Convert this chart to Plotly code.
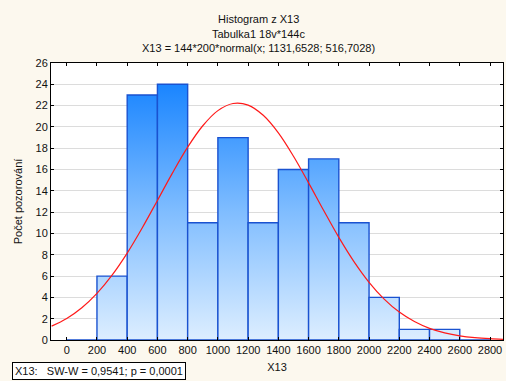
import plotly.graph_objects as go

# Data
bin_edges = [0, 200, 400, 600, 800, 1000, 1200, 1400, 1600, 1800, 2000, 2200, 2400, 2600, 2800]
counts = [0, 6, 23, 24, 11, 19, 11, 16, 17, 11, 4, 1, 1, 0]

# Fitted normal curve
curve_x = [-100, 0, 100, 200, 300, 400, 500, 600, 700, 800, 900, 1000, 1100, 1200, 1300,
           1400, 1500, 1600, 1700, 1800, 1900, 2000, 2100, 2200, 2300, 2400, 2500, 2600,
           2700, 2800, 2900]
curve_y = [1.30, 2.02, 3.03, 4.38, 6.09, 8.16, 10.54, 13.10, 15.69, 18.10, 20.11, 21.53,
           22.20, 22.05, 21.09, 19.44, 17.25, 14.75, 12.15, 9.63, 7.36, 5.42, 3.84, 2.62,
           1.73, 1.09, 0.67, 0.39, 0.22, 0.12, 0.06]

x_ticks = list(range(0, 2801, 200))
y_ticks = list(range(0, 27, 2))

font_family = "Liberation Sans, Arial, sans-serif"
fig = go.Figure()

for i, c in enumerate(counts):
    x0, x1 = bin_edges[i], bin_edges[i + 1]
    fig.add_trace(go.Scatter(
        x=[x0, x0, x1, x1, x0], y=[0, c, c, 0, 0],
        mode="lines", fill="toself",
        fillgradient=dict(type="vertical", start=0, stop=24,
                          colorscale=[[0, "#ddeeff"], [0.5, "#80bdff"], [1, "#1a85ff"]]),
        line=dict(color="#1a52d0", width=1.4),
        hoverinfo="skip", showlegend=False,
    ))

fig.add_trace(go.Scatter(
    x=curve_x, y=curve_y, mode="lines", line=dict(color="#ff1a1a", width=1.2, shape="spline"),
    showlegend=False,
))

fig.update_layout(
    width=506, height=381,
    margin=dict(l=51, r=3, t=63, b=41),
    paper_bgcolor="#fcf8ee", plot_bgcolor="white",
    font=dict(family=font_family, size=11, color="#111111"),
    showlegend=False,
)
fig.update_xaxes(
    range=[-104, 2886], tickvals=x_ticks, ticks="inside", ticklen=3, tickcolor="black",
    showline=True, linecolor="black", linewidth=1, mirror="ticks", showgrid=False,
    zeroline=False, title=dict(text="X13", standoff=8, font=dict(size=11)), tickfont=dict(size=11),
)
fig.update_yaxes(
    range=[0, 26], tickvals=y_ticks, ticks="inside", ticklen=3, tickcolor="black",
    showline=True, linecolor="black", linewidth=1, mirror="ticks",
    showgrid=True, gridcolor="#dcdcdc", gridwidth=1, zeroline=False,
    title=dict(text="Počet pozorování", standoff=10, font=dict(size=11)), tickfont=dict(size=11),
)

titles = ["Histogram z X13", "Tabulka1 18v*144c", "X13 = 144*200*normal(x; 1131,6528; 516,7028)"]
tpos = [19, 34, 48]
for t, p in zip(titles, tpos):
    fig.add_annotation(text=t, xref="paper", yref="paper", x=(258 - 51) / 452, y=(340 - p) / 277,
                       showarrow=False, xanchor="center", yanchor="middle", font=dict(size=11))

fig.add_annotation(text="X13:\u00a0\u00a0\u00a0SW-W = 0,9541; p = 0,0001", xref="paper", yref="paper",
                   x=(12 - 51) / 452, y=(340 - 371) / 277, xanchor="left", yanchor="middle",
                   showarrow=False, bordercolor="black", borderwidth=1, bgcolor="white",
                   borderpad=2, font=dict(size=11))

fig.write_html("out.html")
